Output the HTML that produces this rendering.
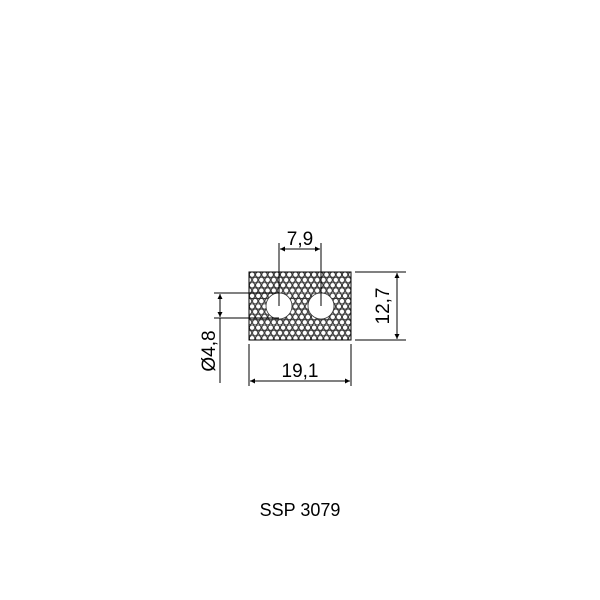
<!DOCTYPE html>
<html><head><style>body{margin:0;background:#fff}svg{display:block}</style></head><body>
<svg width="600" height="600" viewBox="0 0 600 600" xmlns="http://www.w3.org/2000/svg" font-family="Liberation Sans, sans-serif">
<defs>
<pattern id="hex" x="249" y="272" width="6.2" height="10.6" patternUnits="userSpaceOnUse">
<circle cx="3.1" cy="2.65" r="2.7" fill="#fff" stroke="#222" stroke-width="0.85"/>
<circle cx="0" cy="7.95" r="2.7" fill="#fff" stroke="#222" stroke-width="0.85"/>
<circle cx="6.2" cy="7.95" r="2.7" fill="#fff" stroke="#222" stroke-width="0.85"/>
</pattern>
<marker id="a" viewBox="0 0 10 10" refX="10" refY="5" markerWidth="9" markerHeight="5" orient="auto-start-reverse" markerUnits="userSpaceOnUse"><path d="M0,0 L10,5 L0,10 z" fill="#000"/></marker>
</defs>
<rect x="249" y="272" width="102" height="68" fill="#999"/>
<rect x="249" y="272" width="102" height="68" fill="url(#hex)" stroke="#000" stroke-width="1"/>
<circle cx="279" cy="306" r="13" fill="#fff" stroke="#333" stroke-width="0.8"/>
<circle cx="321" cy="306" r="13" fill="#fff" stroke="#333" stroke-width="0.8"/>
<g stroke="#000" stroke-width="1" fill="none">
<line x1="279" y1="243" x2="279" y2="306"/>
<line x1="321" y1="243" x2="321" y2="306"/>
<line x1="280" y1="249" x2="320" y2="249" marker-start="url(#a)" marker-end="url(#a)"/>
<line x1="355" y1="272" x2="406" y2="272"/>
<line x1="355" y1="340" x2="406" y2="340"/>
<line x1="397" y1="273" x2="397" y2="339" marker-start="url(#a)" marker-end="url(#a)"/>
<line x1="249" y1="344" x2="249" y2="386"/>
<line x1="351" y1="344" x2="351" y2="386"/>
<line x1="250" y1="381" x2="350" y2="381" marker-start="url(#a)" marker-end="url(#a)"/>
<line x1="214" y1="293" x2="279" y2="293"/>
<line x1="214" y1="318" x2="279" y2="318"/>
<line x1="220" y1="294" x2="220" y2="317" marker-start="url(#a)" marker-end="url(#a)"/>
<line x1="220" y1="318" x2="220" y2="383"/>
</g>
<text x="300" y="245" font-size="19" text-anchor="middle">7,9</text>
<text x="300" y="377" font-size="19" text-anchor="middle">19,1</text>
<text transform="translate(389,306) rotate(-90)" font-size="19" text-anchor="middle">12,7</text>
<text transform="translate(215,351) rotate(-90)" font-size="19" text-anchor="middle">Ø4,8</text>
<text x="300" y="516" font-size="18" text-anchor="middle">SSP 3079</text>
</svg>
</body></html>
